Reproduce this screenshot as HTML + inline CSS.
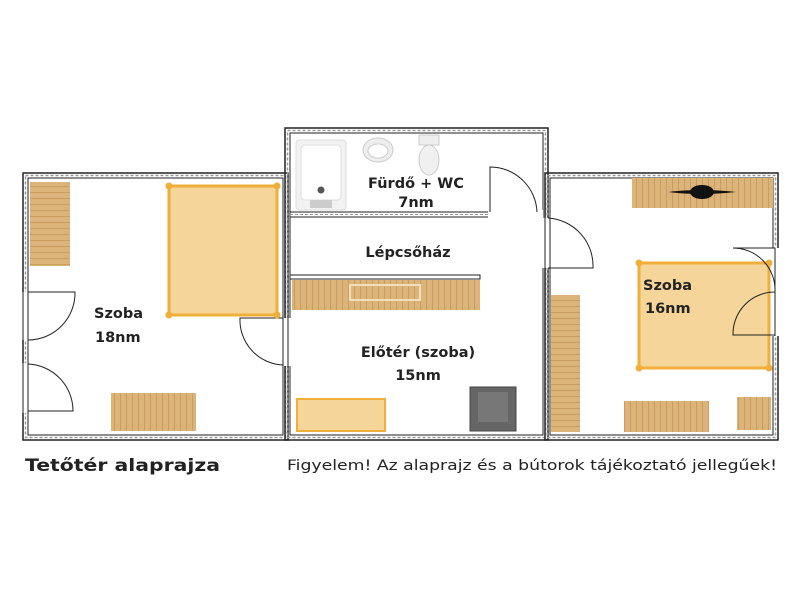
<!DOCTYPE html>
<html><head><meta charset="utf-8"><style>
html,body{margin:0;padding:0;background:#fff;width:800px;height:600px;overflow:hidden}
svg text{font-family:"DejaVu Sans","Liberation Sans",sans-serif}
</style></head><body>
<svg width="800" height="600" xmlns="http://www.w3.org/2000/svg">
<defs>
<pattern id="wood" width="6" height="6" patternUnits="userSpaceOnUse">
<rect width="6" height="6" fill="#dcb479"/><line x1="0" y1="0.5" x2="6" y2="0.5" stroke="#c99e60" stroke-width="1"/>
</pattern>
<pattern id="woodv" width="6" height="6" patternUnits="userSpaceOnUse">
<rect width="6" height="6" fill="#dcb479"/><line x1="0.5" y1="0" x2="0.5" y2="6" stroke="#c99e60" stroke-width="1"/>
</pattern>
</defs>
<g fill="none" stroke="#222">
<rect x="23" y="173" width="265" height="267" stroke-width="1.5"/>
<rect x="28" y="178" width="255" height="257" stroke-width="1"/>
<rect x="25.5" y="175.5" width="260" height="262" stroke="#999" stroke-dasharray="3,2" stroke-width="1.5"/>
<rect x="285" y="128" width="263" height="312" stroke-width="1.5"/>
<rect x="290" y="133" width="253" height="302" stroke-width="1"/>
<rect x="287.5" y="130.5" width="258" height="307" stroke="#999" stroke-dasharray="3,2" stroke-width="1.5"/>
<rect x="545" y="173" width="233" height="267" stroke-width="1.5"/>
<rect x="550" y="178" width="223" height="257" stroke-width="1"/>
<rect x="547.5" y="175.5" width="228" height="262" stroke="#999" stroke-dasharray="3,2" stroke-width="1.5"/>
<rect x="290" y="212" width="253" height="5" stroke-width="1"/>
<line x1="290" y1="214.5" x2="543" y2="214.5" stroke="#999" stroke-dasharray="3,2"/>
<rect x="290" y="275" width="190" height="4" stroke-width="1"/>
</g>
<g fill="#fff">
<rect x="21" y="292" width="9" height="48"/>
<rect x="21" y="363" width="9" height="50"/>
<rect x="281" y="318" width="11" height="48"/>
<rect x="488" y="210" width="55" height="9"/>
<rect x="541" y="218" width="11" height="50"/>
<rect x="771" y="248" width="9" height="88"/>
</g>
<g fill="none" stroke="#222" stroke-width="1">
<line x1="23" y1="292" x2="23" y2="340"/><line x1="28" y1="292" x2="28" y2="340"/>
<line x1="23" y1="363" x2="23" y2="413"/><line x1="28" y1="363" x2="28" y2="413"/>
<path d="M28 292 H75 A47 47 0 0 1 28 340"/>
<path d="M28 364 A47 47 0 0 1 73 411 H28"/>
<path d="M283 318 H240 A45 45 0 0 0 283 365"/>
<line x1="283" y1="318" x2="283" y2="366"/><line x1="288" y1="318" x2="288" y2="366"/>
<path d="M490 212 V167 A47 47 0 0 1 537 212"/>
<path d="M548 218 A48 48 0 0 1 593 268 H548"/>
<line x1="545" y1="218" x2="545" y2="268"/><line x1="550" y1="218" x2="550" y2="268"/>
<line x1="775" y1="248" x2="775" y2="336"/>
</g>
<rect x="30" y="182" width="40" height="84" fill="url(#wood)"/>
<rect x="169" y="186" width="108" height="129" fill="#f5d59a" stroke="#f0ae3a" stroke-width="3"/>
<g fill="#f0ae3a"><circle cx="169" cy="186" r="3.5"/><circle cx="277" cy="186" r="3.5"/><circle cx="169" cy="315" r="3.5"/><circle cx="277" cy="315" r="3.5"/></g>
<rect x="111" y="393" width="85" height="38" fill="url(#woodv)"/>
<rect x="296" y="140" width="50" height="70" rx="3" fill="#f2f2f2" stroke="#ddd"/>
<rect x="301" y="145" width="40" height="55" rx="4" fill="#fff" stroke="#ddd"/>
<circle cx="321" cy="190" r="3.5" fill="#555"/>
<rect x="310" y="200" width="22" height="8" fill="#ccc"/>
<ellipse cx="378" cy="150" rx="15" ry="12" fill="#eee" stroke="#ccc"/>
<ellipse cx="378" cy="151" rx="10" ry="7" fill="#fff" stroke="#ccc"/>
<rect x="419" y="135" width="20" height="10" fill="#eee" stroke="#ccc"/>
<ellipse cx="429" cy="160" rx="10" ry="15" fill="#f0f0f0" stroke="#ccc"/>
<rect x="292" y="280" width="188" height="30" fill="url(#woodv)"/>
<rect x="350" y="285" width="70" height="15" fill="none" stroke="#f2dfbe" stroke-width="2"/>
<rect x="297" y="399" width="88" height="32" fill="#f5d59a" stroke="#f0ae3a" stroke-width="2"/>
<rect x="470" y="387" width="46" height="44" fill="#666" stroke="#444"/>
<rect x="478" y="392" width="30" height="30" fill="#777"/>
<rect x="632" y="178" width="141" height="30" fill="url(#woodv)"/>
<path d="M668 192 Q700 188 736 192 Q700 196 668 192Z" fill="#111"/>
<ellipse cx="702" cy="192" rx="12" ry="7" fill="#111"/>
<rect x="639" y="263" width="130" height="105" fill="#f5d59a" stroke="#f0ae3a" stroke-width="3"/>
<g fill="#f0ae3a"><circle cx="639" cy="263" r="3.5"/><circle cx="769" cy="263" r="3.5"/><circle cx="639" cy="368" r="3.5"/><circle cx="769" cy="368" r="3.5"/></g>
<path d="M775 248 H733 A42 42 0 0 1 775 292 A42 42 0 0 0 733 335 H775" fill="none" stroke="#222"/>
<rect x="551" y="295" width="29" height="137" fill="url(#wood)"/>
<rect x="624" y="401" width="85" height="31" fill="url(#woodv)"/>
<rect x="737" y="397" width="34" height="33" fill="url(#woodv)"/>
<g font-weight="bold" font-size="14.5" fill="#222">
<text x="94" y="318">Szoba</text><text x="95" y="342">18nm</text>
<text x="416" y="188" text-anchor="middle">Fürdő + WC</text><text x="416" y="207" text-anchor="middle">7nm</text>
<text x="408" y="257" text-anchor="middle">Lépcsőház</text>
<text x="418" y="357" text-anchor="middle">Előtér (szoba)</text><text x="418" y="380" text-anchor="middle">15nm</text>
<text x="643" y="290">Szoba</text><text x="645" y="313">16nm</text>
<text x="25" y="471" font-size="17" textLength="195" lengthAdjust="spacingAndGlyphs">Tetőtér alaprajza</text>
</g>
<text x="287" y="470" font-size="14" fill="#222" textLength="490" lengthAdjust="spacingAndGlyphs">Figyelem! Az alaprajz és a bútorok tájékoztató jellegűek!</text>
</svg>
</body></html>
